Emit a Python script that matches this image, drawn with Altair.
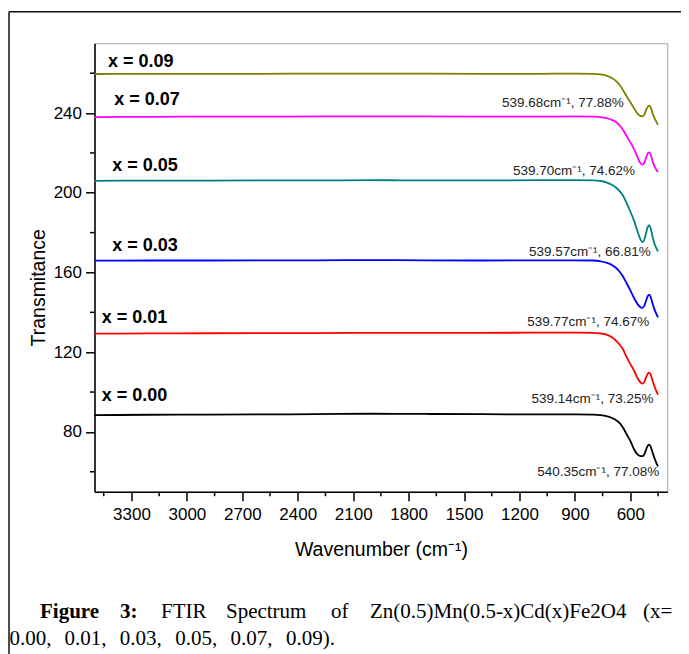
import altair as alt
import pandas as pd

# ---------------- data ----------------
wavenumber = [3500, 3200, 2900, 2600, 2300, 2000, 1700, 1400, 1100, 900, 800, 760, 730, 700,
              680, 660, 640, 620, 600, 580, 560, 545, 535, 525, 515, 505, 498, 490, 480, 470, 460, 450]

t_000 = [88.4, 88.6, 88.7, 88.8, 88.9, 89.1, 89.0, 88.9, 88.8, 88.8, 88.7, 88.4, 87.9, 87.0,
         86.1, 84.6, 82.2, 78.8, 75.5, 71.3, 68.6, 67.9, 67.8, 68.7, 71.0, 73.2, 73.6, 72.6, 69.8, 67.0, 64.6, 62.7]
t_001 = [129.3, 129.4, 129.5, 129.6, 129.6, 129.7, 129.7, 129.7, 129.8, 129.8, 129.7, 129.4, 128.8, 127.5,
         126.0, 124.0, 121.5, 117.5, 114.0, 110.8, 106.8, 104.8, 104.2, 105.0, 107.4, 109.3, 109.7, 108.8, 105.8, 102.9, 100.6, 98.7]
t_003 = [165.9, 166.0, 166.0, 166.1, 166.1, 166.2, 166.1, 166.0, 166.1, 166.1, 166.0, 165.6, 164.9, 163.8,
         162.5, 160.6, 158.0, 154.6, 151.0, 147.2, 144.0, 142.6, 142.2, 143.2, 145.8, 148.3, 148.9, 147.8, 144.5, 141.6, 139.4, 137.5]
t_005 = [206.0, 206.1, 206.1, 206.2, 206.2, 206.3, 206.2, 206.2, 206.3, 206.3, 206.2, 205.9, 205.2, 204.0,
         202.8, 201.1, 198.6, 194.8, 190.6, 186.0, 180.3, 176.6, 175.2, 176.3, 179.8, 183.0, 183.7, 182.2, 178.0, 174.6, 172.4, 170.6]
t_007 = [238.0, 238.1, 238.2, 238.2, 238.3, 238.3, 238.3, 238.2, 238.2, 238.3, 238.2, 238.0, 237.5, 236.6,
         235.6, 234.0, 231.6, 228.5, 225.3, 221.9, 217.6, 214.8, 214.1, 214.9, 217.6, 219.8, 220.3, 219.2, 216.0, 213.4, 211.7, 210.4]
t_009 = [259.6, 259.7, 259.7, 259.7, 259.8, 259.8, 259.8, 259.7, 259.7, 259.8, 259.7, 259.4, 258.8, 257.6,
         256.3, 254.3, 251.6, 248.4, 245.4, 242.4, 239.6, 238.6, 238.3, 239.1, 241.5, 243.3, 243.7, 242.8, 240.0, 237.6, 235.8, 234.1]

series_names = ["x = 0.00", "x = 0.01", "x = 0.03", "x = 0.05", "x = 0.07", "x = 0.09"]
series_colors = ["#000000", "#ff0000", "#0000ff", "#008080", "#ff00ff", "#808000"]

label_wn = [3461, 3461, 3404, 3404, 3393, 3427]
label_t = [95.3, 134.7, 170.9, 210.7, 243.8, 263.2]

peak_text = ["540.35cm⁻¹, 77.08%", "539.14cm⁻¹, 73.25%", "539.77cm⁻¹, 74.67%",
             "539.57cm⁻¹, 66.81%", "539.70cm⁻¹, 74.62%", "539.68cm⁻¹, 77.88%"]
peak_wn = [773.7, 804.5, 828, 819, 904.7, 965]
peak_t = [57.7, 94.5, 133.0, 168.4, 209.0, 242.9]

x_major = [3300, 3000, 2700, 2400, 2100, 1800, 1500, 1200, 900, 600]
x_minor = [3450, 3150, 2850, 2550, 2250, 1950, 1650, 1350, 1050, 750, 450]
y_major = [80, 120, 160, 200, 240]
y_minor = [60, 100, 140, 180, 220, 260]

# caption (justified paragraph, so each word is placed on its own)
caption_words = ["Figure", "3:", "FTIR", "Spectrum", "of", "Zn(0.5)Mn(0.5-x)Cd(x)Fe2O4", "(x=",
                 "0.00,", "0.01,", "0.03,", "0.05,", "0.07,", "0.09)."]

# ---------------- layout ----------------
W, H = 572.8, 448.4
FONT = "Liberation Sans"
SERIF = "Liberation Serif"

rows = []
for name, vals in zip(series_names, [t_000, t_001, t_003, t_005, t_007, t_009]):
    for w, v in zip(wavenumber, vals):
        rows.append({"series": name, "wn": w, "t": v})
spec = pd.DataFrame(rows)

x_scale = alt.Scale(domain=[400, 3500], reverse=True, nice=False, zero=False)
y_scale = alt.Scale(domain=[50, 275], nice=False, zero=False)
color_scale = alt.Scale(domain=series_names, range=series_colors)

lines = alt.Chart(spec).mark_line(strokeWidth=1.8, interpolate="monotone").encode(
    x=alt.X("wn:Q", scale=x_scale,
            axis=alt.Axis(values=x_major, format="d", title="Wavenumber (cm⁻¹)",
                          titlePadding=18, labelPadding=6, titleFontSize=19.5)),
    y=alt.Y("t:Q", scale=y_scale,
            axis=alt.Axis(values=y_major, format="d", title="Transmitance",
                          titleX=-46, titleY=244, labelPadding=4, titleFontSize=19.5)),
    color=alt.Color("series:N", scale=color_scale, legend=None),
    order=alt.Order("wn:Q", sort="descending"),
)

lab_df = pd.DataFrame({"series": series_names, "wn": label_wn, "t": label_t})
labels = alt.Chart(lab_df).mark_text(
    align="left", baseline="alphabetic", fontSize=18, fontWeight="bold", font=FONT, color="#000"
).encode(x=alt.X("wn:Q", scale=x_scale), y=alt.Y("t:Q", scale=y_scale), text="series:N")

peak_df = pd.DataFrame({"txt": peak_text, "wn": peak_wn, "t": peak_t})
peaks = alt.Chart(peak_df).mark_text(
    align="center", baseline="alphabetic", fontSize=13.5, font=FONT, color="#222"
).encode(x=alt.X("wn:Q", scale=x_scale), y=alt.Y("t:Q", scale=y_scale), text="txt:N")

xmin_df = pd.DataFrame({"wn": x_minor})
xminor = alt.Chart(xmin_df).mark_rule(color="#000", strokeWidth=1.5).encode(
    x=alt.X("wn:Q", scale=x_scale), y=alt.value(H), y2=alt.value(H + 4.5))
ymin_df = pd.DataFrame({"t": y_minor})
yminor = alt.Chart(ymin_df).mark_rule(color="#000", strokeWidth=1.5).encode(
    y=alt.Y("t:Q", scale=y_scale), x=alt.value(-4.5), x2=alt.value(0))

one = alt.Data(values=[{"k": 1}])
frame_top = alt.Chart(one).mark_rule(color="#111", strokeWidth=1.5).encode(
    x=alt.value(-85.5), x2=alt.value(600), y=alt.value(-31.6))
frame_left = alt.Chart(one).mark_rule(color="#111", strokeWidth=1.5).encode(
    x=alt.value(-85.5), y=alt.value(-31.6), y2=alt.value(620))

cap_x = [40, 120, 161, 226, 331, 370, 643, 9.5, 64.5, 119.8, 175.2, 230.6, 286]
cap_y = [618] * 7 + [645] * 6
cap_bold = [True, True] + [False] * 11
caption = []
for word, px, py, b in zip(caption_words, cap_x, cap_y, cap_bold):
    caption.append(alt.Chart(one).mark_text(
        text=word, align="left", baseline="alphabetic", font=SERIF, fontSize=21,
        fontWeight="bold" if b else "normal", color="#000"
    ).encode(x=alt.value(px - 94.5), y=alt.value(py - 43.3)))

chart = alt.layer(lines, labels, peaks, xminor, yminor, frame_top, frame_left, *caption).properties(
    width=W, height=H,
    padding={"left": 86.5, "top": 35.3, "right": 13.5, "bottom": 162},
    autosize=alt.AutoSizeParams(type="none"),
).configure_view(stroke="#a0a0a0", strokeWidth=1).configure_axis(
    grid=False, domainColor="#000", domainWidth=1.5, tickColor="#000", tickWidth=1.5, tickSize=9,
    labelFont=FONT, labelFontSize=17, labelColor="#000",
    titleFont=FONT, titleFontWeight="normal", titleColor="#000",
)

chart.save("out.html", embed_options={"renderer": "svg", "actions": False})
